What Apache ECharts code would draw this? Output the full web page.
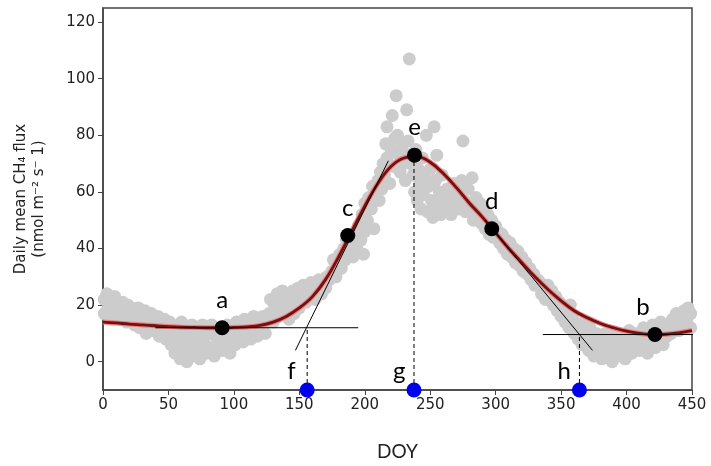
<!DOCTYPE html>
<html>
<head>
<meta charset="utf-8">
<script src="https://cdn.jsdelivr.net/npm/echarts@6/dist/echarts.min.js"></script>
<style>html,body{margin:0;padding:0;background:#fff}#c{width:711px;height:466px}</style>
</head>
<body>
<div id="c"></div>
<script>
// Observed daily flux (DOY, value)
const observed = [
[1,22],[1,17],[3,24],[4,19],[6,15],[7,21],[9,23],[10,17],[12,20],[13,15],
[15,21],[16,18],[18,14],[19,20],[21,16],[22,19],[24,13],[25,17],
[27,19],[28,12],[30,15],[32,18],[33,10],[35,14],[37,17],[38,11],[40,13],[42,16],[43,9],[45,12],[47,15],[48,8],[49,11],
[51,14],[52,6],[53,10],[55,3],[56,12],[57,7],[59,1],[60,14],[61,9],[62,4],[64,0],[65,11],[66,6],[68,13],[69,2],[70,8],[72,4],[73,11],[74,1],
[76,13],[77,7],[79,3],[80,10],[82,5],[83,13],[85,2],[86,9],[88,6],[89,12],[91,4],[92,10],[94,7],[95,13],[97,3],[98,9],[99,11],
[101,6],[102,14],[104,9],[105,12],[107,7],[108,15],[110,10],[112,13],[113,8],[115,16],[116,11],[118,9],[119,14],[121,12],[122,16],[124,10],[125,14],
[127,17],[128,22],[130,14],[131,19],[133,24],[134,16],[136,21],[137,25],[139,18],[140,23],[142,15],[143,20],[145,25],[146,17],[148,22],[149,26],[150,19],
[152,24],[153,27],[155,21],[156,26],[158,23],[159,28],[161,25],[162,22],[164,27],[165,29],[167,24],[168,28],[170,26],[171,30],[173,29],
[175,32],[176,36],[178,30],[179,34],[181,38],[182,33],[184,40],[185,36],[186,43],
[188,39],[189,42],[191,37],[192,45],[194,40],[195,48],[197,43],[198,52],[199,38],[200,46],[200,56],
[202,50],[203,58],[205,54],[206,62],[207,47],[208,59],[210,64],[211,57],[212,67],[213,61],[214,70],
[215,66],[216,77],[217,83],[217,72],[219,63],[220,75],[221,87],[222,69],[223,79],[224,94],[225,80],[226,73],[227,67],[228,76],[229,70],[230,74],[231,64],[232,89],[233,78],[234,107],[235,70],
[237,66],[238,60],[239,75],[240,57],[241,68],[242,63],[243,54],[244,72],[245,59],[246,65],[247,80],[248,53],[249,62],[250,68],[251,57],[252,51],[253,83],[254,64],[255,73],[256,55],[257,60],[258,52],[259,66],[260,57],
[262,54],[263,61],[265,58],[266,52],[268,63],[269,56],[271,60],[272,54],[274,64],[275,78],[276,57],[277,53],[279,61],[280,55],[282,65],[283,50],[285,58],[286,53],[288,56],[289,49],[291,54],[292,47],[294,52],[295,45],[297,50],[298,44],[300,48],
[302,46],[303,42],[305,45],[306,40],[308,43],[309,38],[311,42],[312,37],[314,40],[315,35],[317,39],[318,34],[320,37],[321,32],[323,35],[324,31],[326,33],[327,29],[329,31],[330,27],[332,29],
[334,28],[335,24],[337,26],[338,22],[340,27],[341,23],[343,25],[344,20],[346,23],[347,18],[349,21],[350,16],[352,19],[353,14],[355,17],[356,12],[357,20],
[359,15],[360,10],[362,13],[363,8],[365,11],[366,6],[368,14],[369,9],[371,4],[372,12],[374,7],[375,2],[377,10],[378,5],[380,8],[381,1],
[383,6],[384,10],[386,3],[387,8],[389,0],[390,5],[392,10],[393,2],[395,7],[396,4],[398,9],[399,1],[401,6],[402,11],[404,3],[405,8],[407,5],[408,10],
[410,4],[411,8],[413,12],[414,6],[416,3],[417,10],[419,7],[420,13],[422,5],[423,11],[425,8],[426,14],[428,6],[429,12],[431,9],[432,13],
[434,10],[435,15],[437,12],[438,17],[440,11],[441,16],[443,13],[444,18],[446,14],[447,19],[449,12],[449,17]
];
// Fitted curve
const fitDoy  = [0,10,20,30,40,50,60,70,80,90,100,110,120,130,140,150,160,170,180,190,200,210,220,230,240,250,260,270,280,290,300,310,320,330,340,350,360,370,380,390,400,410,420,430,440,450];
const fitVals = [14,13.7,13.3,13,12.7,12.4,12.2,12.1,12,12,12.1,12.3,12.8,14,16,19,23,29,37,46,55,63,69,72,72.5,70.5,66.5,61.5,56,51,45.5,40,35,30,25.5,21.5,18,15.5,13.5,12,10.8,10,9.6,9.7,10.2,11];
// Key points a-e
const keyNames = ['a','c','e','d','b'];
const keyDoy   = [91,187,238,297,421.7];
const keyVals  = [12,44.6,73,47,9.6];
// Phenology dates f, g, h
const phenoNames = ['f','g','h'];
const phenoDoy   = [156,237.6,364];
const phenoBase  = -10;
const phenoTop   = [12,72.5,9.6];
// Tangent and baseline segments
const tangentC = [[147,4],[218,71]];
const tangentD = [[292,50],[374,4]];
const baseA = [[40,12],[195,12]];
const baseB = [[336,9.6],[464,9.6]];
const yTicks = [0,20,40,60,80,100,120];

const fitData = fitDoy.map((d,i)=>[d,fitVals[i]]);
const seg = (data, extra) => Object.assign({type:'line', data, symbol:'none', silent:true,
  lineStyle:{color:'#000', width:1}, z:4}, extra||{});

const series = [
  {type:'scatter', data:observed, symbolSize:13, itemStyle:{color:'#cccccc', opacity:1}, silent:true, z:1},
  {type:'line', data:fitData, smooth:0.4, symbol:'none', lineStyle:{color:'#f07f7f', width:5}, z:2, silent:true},
  {type:'line', data:fitData, smooth:0.4, symbol:'none', lineStyle:{color:'#6e1212', width:2.8}, z:3, silent:true},
  seg(tangentC), seg(tangentD), seg(baseA), seg(baseB, {clip:false})
];
phenoDoy.forEach((d,i)=>{
  series.push(seg([[d,phenoBase],[d,phenoTop[i]]], {lineStyle:{color:'#000', width:1, type:[4,3]}}));
});
series.push({type:'scatter', z:6, silent:true, symbolSize:15,
  data: keyDoy.map((d,i)=>({value:[d,keyVals[i]], name:keyNames[i],
    label:{offset: keyNames[i]==='b' ? [-12,0] : [0,0]}})),
  itemStyle:{color:'#000', opacity:1},
  label:{show:true, position:'top', distance:8, formatter:p=>p.name, fontFamily:'Lato, Open Sans, sans-serif', fontSize:24, color:'#000'}
});
series.push({type:'scatter', z:7, silent:true, symbolSize:15, clip:false,
  data: phenoDoy.map((d,i)=>({value:[d,phenoBase], name:phenoNames[i],
    label:{offset: phenoNames[i]==='f' ? [-3,-19] : [0,-19]}})),
  itemStyle:{color:'#0000ee', opacity:1},
  label:{show:true, position:'left', distance:1, formatter:p=>p.name, fontFamily:'Lato, Open Sans, sans-serif', fontSize:24, color:'#000'}
});

const chart = echarts.init(document.getElementById('c'), null, {renderer:'canvas'});
chart.setOption({
  animation:false,
  backgroundColor:'#fff',
  grid:{left:103, right:19, top:8, bottom:76, show:true, borderColor:'#444', borderWidth:1.5},
  xAxis:{type:'value', min:0, max:450, interval:50,
    name:'DOY', nameLocation:'middle', nameGap:52,
    nameTextStyle:{fontFamily:'Lato, Open Sans, sans-serif', fontSize:19, color:'#222'},
    axisLine:{show:true, onZero:false, lineStyle:{color:'#444', width:1.5}},
    axisTick:{show:true, length:5, lineStyle:{color:'#444'}},
    axisLabel:{fontFamily:'DejaVu Sans', fontSize:15, color:'#222', margin:8},
    splitLine:{show:false}},
  yAxis:{type:'value', min:-10, max:125, interval:5,
    name:'Daily mean CH₄ flux\n(nmol m⁻² s⁻ 1)', nameLocation:'middle', nameGap:55, nameRotate:90,
    nameTextStyle:{fontFamily:'DejaVu Sans', fontSize:15, color:'#222', lineHeight:18},
    axisLine:{show:true, onZero:false, lineStyle:{color:'#444', width:1.5}},
    axisTick:{show:true, length:5, customValues:yTicks, lineStyle:{color:'#444'}},
    axisLabel:{fontFamily:'DejaVu Sans', fontSize:15, color:'#222', margin:8, customValues:yTicks},
    splitLine:{show:false}},
  series
});
</script>
</body>
</html>
